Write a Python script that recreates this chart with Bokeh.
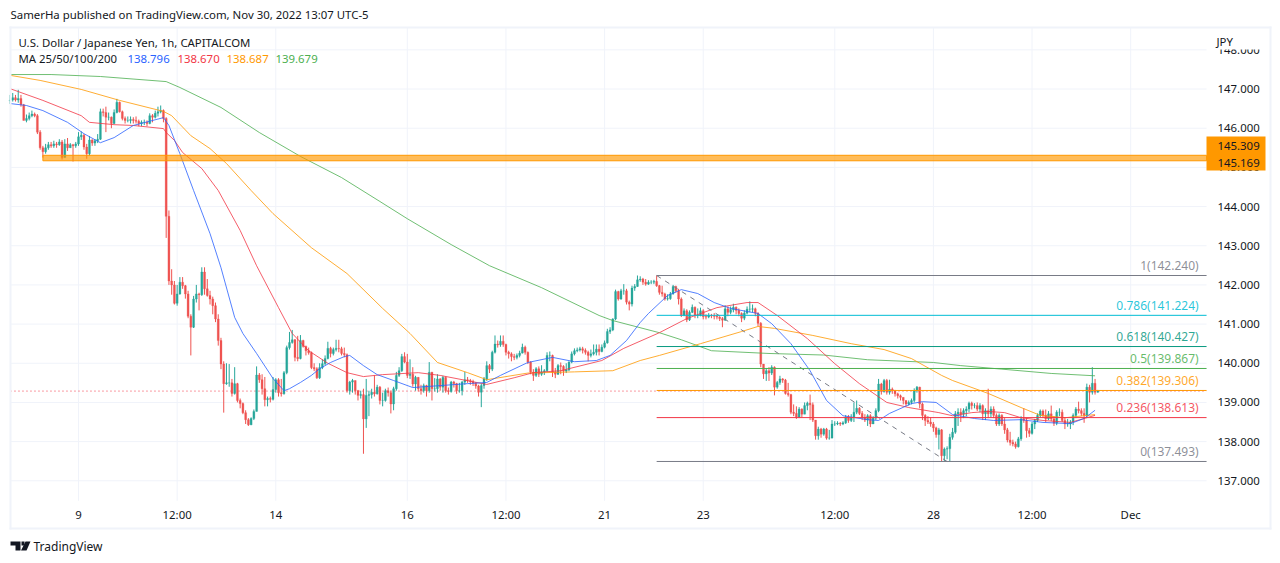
from bokeh.plotting import figure
from bokeh.embed import file_html
from bokeh.resources import INLINE
from bokeh.core.properties import value
from bokeh.models import (ColumnDataSource, Label, BoxAnnotation, PolyAnnotation, FixedTicker,
                          NumeralTickFormatter, LinearAxis)

closes = [146.72,146.78,146.72,146.76,146.6,146.2,146.25,146.32,146.36,146.32,
145.9,145.5,145.4,145.5,145.58,145.55,145.6,145.58,145.65,145.25,
145.6,145.5,145.58,145.55,145.6,145.78,145.82,145.52,145.35,145.7,
145.62,145.68,145.72,146.42,146.4,146.28,146.28,146.12,146.4,146.66,
146.42,146.25,146.2,146.2,146.22,146.2,146.18,146.12,146.15,146.15,
146.12,146.32,146.28,146.38,146.42,146.45,146.25,143.75,142.1,142.0,
141.53,141.77,142.07,141.98,141.77,141.2,140.92,141.64,141.77,141.75,
142.33,141.9,141.73,141.64,141.47,141.13,140.58,139.98,139.48,139.5,
139.5,139.23,139.48,139.05,138.97,138.74,138.56,138.43,138.59,138.77,
139.7,139.58,139.35,139.07,139.1,139.08,139.33,139.58,139.25,139.22,
139.76,140.4,140.53,140.6,140.15,140.12,140.58,140.43,140.32,140.27,
139.89,139.86,139.63,139.89,139.99,140.12,140.38,140.25,140.35,140.38,
140.37,140.25,140.22,139.3,139.52,139.56,139.3,139.18,139.2,138.58,
139.18,139.2,139.26,139.22,139.39,139.05,139.05,139.3,139.25,138.96,
139.35,139.69,139.81,140.17,140.03,139.69,139.72,139.47,139.64,139.35,
139.3,139.43,139.3,139.77,139.35,139.35,139.6,139.39,139.64,139.3,
139.28,139.52,139.48,139.3,139.3,139.52,139.58,139.56,139.53,139.49,
139.42,139.26,139.43,139.6,139.94,139.85,140.28,140.49,140.47,140.56,
140.48,140.28,140.24,140.17,140.15,140.2,140.26,140.41,140.28,140.03,
139.77,139.69,139.86,139.72,139.78,139.81,140.2,140.2,139.77,139.72,
139.94,139.92,139.8,139.83,140.03,140.24,140.32,140.34,140.37,140.33,
140.28,140.2,140.24,140.28,140.36,140.3,140.41,140.52,140.81,140.85,
141.13,141.83,141.64,141.85,141.85,141.56,141.51,141.92,141.96,142.13,
142.15,142.07,142.02,142.07,142.07,142.09,141.98,141.81,141.77,141.64,
141.65,141.77,141.96,141.85,141.64,141.22,141.34,141.11,141.3,141.43,
141.22,141.22,141.34,141.19,141.18,141.22,141.21,141.2,141.18,141.14,
141.1,141.39,141.3,141.37,141.43,141.35,141.27,141.15,141.28,141.38,
141.38,141.39,141.28,141.02,139.98,139.73,139.81,139.75,139.9,139.39,
139.51,139.6,139.57,139.23,139.2,138.75,138.72,138.62,138.83,138.7,
138.92,138.98,138.94,138.55,138.15,138.32,138.19,138.32,138.09,138.09,
138.45,138.45,138.47,138.45,138.48,138.62,138.54,138.62,138.75,138.85,
138.72,138.62,138.55,138.66,138.45,138.6,138.79,139.47,139.28,139.56,
139.26,139.34,139.3,139.22,139.17,139.13,139.05,138.96,139.0,139.05,
139.3,139.39,138.96,138.67,138.54,138.5,138.45,138.35,138.18,138.3,
137.64,137.81,137.82,138.11,138.24,138.71,138.75,138.7,138.79,138.83,
138.98,138.92,138.92,138.83,138.92,138.71,138.79,138.71,138.83,138.67,
138.45,138.67,138.45,138.3,138.04,137.98,137.94,137.87,138.07,138.58,
138.54,138.28,138.21,138.45,138.54,138.67,138.78,138.67,138.58,138.71,
138.58,138.47,138.75,138.75,138.54,138.45,138.45,138.5,138.67,138.83,
138.79,138.72,138.67,139.39,139.26,139.49,139.26,139.3]

highs = [146.85,146.9,146.85,146.98,146.85,146.62,146.35,146.4,146.45,146.4,
146.36,145.95,145.55,145.6,145.65,145.65,145.68,145.65,145.72,145.7,
145.72,145.75,145.62,145.6,145.65,145.9,145.92,145.85,145.6,145.8,
145.72,145.72,145.85,146.5,146.5,146.55,146.4,146.3,146.48,146.75,
146.68,146.45,146.3,146.3,146.3,146.28,146.3,146.22,146.2,146.22,
146.2,146.38,146.36,146.45,146.55,146.58,146.48,146.28,143.9,142.4,
142.1,142.0,142.2,142.2,142.0,141.85,141.25,141.72,142.0,141.8,
142.45,142.45,142.15,141.85,141.7,141.55,141.25,140.65,140.05,140.0,
139.98,139.6,139.9,139.5,139.1,139.0,138.8,138.6,138.62,138.82,
139.92,139.75,139.72,139.65,139.15,139.15,139.65,139.62,139.62,139.6,
139.8,140.45,140.8,140.85,140.62,140.7,140.72,140.6,140.45,140.4,
140.3,140.0,139.9,140.0,140.1,140.2,140.55,140.42,140.4,140.6,
140.6,140.42,140.4,140.25,139.55,139.6,139.4,139.32,139.3,139.35,
139.6,139.3,139.35,139.69,139.45,139.42,139.25,139.35,139.38,139.3,
139.4,139.78,139.9,140.24,140.28,140.24,140.1,139.9,139.68,139.65,
139.45,139.48,139.45,140.03,139.78,139.62,139.72,139.62,139.68,139.66,
139.38,139.55,139.55,139.5,139.5,139.55,139.78,139.65,139.6,139.58,
139.52,139.45,139.48,139.65,140.05,139.98,140.32,140.71,140.58,140.71,
140.71,140.5,140.32,140.28,140.24,140.25,140.32,140.5,140.45,140.3,
140.05,139.85,139.9,139.92,139.95,139.85,140.28,140.3,140.22,139.88,
139.98,140.02,139.95,140.0,140.05,140.3,140.38,140.4,140.42,140.42,
140.38,140.32,140.35,140.48,140.48,140.48,140.48,140.58,140.88,140.92,
141.15,141.88,141.85,141.9,142.02,141.9,141.6,141.98,142.02,142.24,
142.22,142.18,142.15,142.12,142.12,142.13,142.24,142.0,141.98,141.8,
141.76,141.82,142.0,141.98,141.9,141.68,141.4,141.38,141.35,141.5,
141.45,141.4,141.42,141.38,141.25,141.28,141.26,141.28,141.24,141.2,
141.18,141.48,141.45,141.45,141.52,141.45,141.4,141.3,141.35,141.45,
141.58,141.5,141.42,141.3,141.05,139.98,139.88,139.9,139.95,139.92,
139.55,139.68,139.62,139.6,139.5,139.22,138.95,138.9,138.88,138.85,
139.0,139.02,139.2,139.0,138.55,138.38,138.35,138.35,138.35,138.3,
138.55,138.52,138.52,138.5,138.52,138.68,138.68,138.7,139.0,139.05,
138.88,138.78,138.7,138.7,138.7,138.65,138.85,139.6,139.5,139.6,
139.6,139.58,139.38,139.32,139.25,139.2,139.12,139.05,139.05,139.1,
139.36,139.42,139.4,139.0,138.7,138.65,138.62,138.5,138.38,138.35,
138.32,137.85,137.88,138.2,138.35,138.78,138.85,138.85,138.85,138.9,
139.02,139.02,138.98,139.0,138.98,138.95,138.85,139.35,138.9,138.9,
138.72,138.72,138.7,138.6,138.35,138.25,138.05,138.0,138.12,138.65,
138.85,138.6,138.35,138.5,138.58,138.72,138.82,138.82,138.82,138.78,
138.92,138.65,138.8,138.85,138.82,138.62,138.58,138.55,138.72,138.88,
139.02,138.85,138.85,139.48,139.45,139.9,139.6,139.32]

lows = [146.62,146.68,146.68,146.65,146.55,146.2,146.15,146.2,146.28,146.28,
145.85,145.45,145.25,145.35,145.45,145.5,145.5,145.5,145.55,145.2,
145.25,145.42,145.5,145.15,145.5,145.55,145.7,145.45,145.22,145.3,
145.55,145.55,145.62,145.7,146.3,145.9,146.2,146.0,146.1,146.38,
146.4,146.2,146.12,146.15,146.12,146.12,146.12,146.05,146.05,146.08,
146.05,146.1,146.15,146.25,146.3,146.38,146.15,143.2,142.0,141.75,
141.5,141.47,141.75,141.9,141.65,141.15,140.2,140.9,141.55,141.35,
141.72,141.75,141.7,141.5,141.25,141.05,140.45,139.85,138.74,139.45,
139.4,139.15,139.2,139.0,138.85,138.7,138.45,138.4,138.42,138.55,
139.1,139.5,139.2,138.9,138.9,139.0,139.05,139.25,139.15,139.15,
139.2,139.72,140.35,140.5,140.05,140.05,140.1,140.4,140.2,140.22,
139.85,139.8,139.6,139.6,139.85,139.95,140.1,140.15,140.2,140.3,
140.28,140.2,140.15,139.25,139.2,139.25,139.2,139.05,139.1,137.69,
138.35,138.65,139.1,139.15,139.2,138.95,138.9,139.02,139.15,138.72,
138.8,139.3,139.65,139.78,140.0,139.62,139.6,139.4,139.3,139.28,
139.2,139.25,139.15,139.25,139.05,139.28,139.25,139.3,139.25,139.25,
139.2,139.25,139.38,139.22,139.25,139.18,139.45,139.5,139.45,139.42,
139.35,139.15,138.88,139.35,139.55,139.75,139.8,140.25,140.4,140.42,
140.42,140.2,140.12,140.05,140.08,140.1,140.15,140.25,140.22,139.98,
139.72,139.55,139.65,139.65,139.68,139.7,139.78,140.05,139.65,139.62,
139.7,139.72,139.68,139.75,139.8,140.0,140.2,140.28,140.3,140.25,
140.22,140.05,140.15,140.2,140.2,140.2,140.28,140.38,140.5,140.75,
140.82,141.1,141.6,141.62,141.75,141.5,141.35,141.45,141.85,141.95,
142.08,142.0,141.98,142.0,142.02,142.02,141.95,141.75,141.7,141.6,
141.6,141.62,141.75,141.8,141.5,141.18,141.2,141.05,141.08,141.28,
141.15,141.15,141.2,141.12,141.12,141.15,141.15,141.12,141.12,141.08,
140.92,141.08,141.2,141.25,141.3,141.25,141.2,141.05,141.1,141.25,
141.3,141.3,141.2,140.95,139.9,139.6,139.55,139.55,139.7,139.18,
139.35,139.45,139.5,139.2,139.15,138.7,138.65,138.58,138.6,138.62,
138.7,138.8,138.55,138.5,138.05,138.05,138.1,138.15,138.05,138.05,
138.08,138.4,138.42,138.4,138.42,138.45,138.48,138.5,138.5,138.7,
138.68,138.55,138.5,138.4,138.37,138.45,138.55,138.75,139.2,139.25,
139.2,139.2,139.22,139.15,139.1,139.05,138.95,138.9,138.92,138.95,
139.0,139.25,138.85,138.55,138.4,138.45,138.38,138.25,138.1,137.8,
137.49,137.5,137.55,137.5,138.05,138.2,138.4,138.5,138.6,138.65,
138.75,138.82,138.85,138.78,138.75,138.55,138.55,138.6,138.62,138.6,
138.4,138.4,138.4,138.2,137.98,137.9,137.88,137.82,137.85,138.02,
138.48,138.1,138.12,138.18,138.32,138.5,138.62,138.6,138.5,138.55,
138.52,138.4,138.42,138.65,138.5,138.32,138.38,138.32,138.42,138.6,
138.72,138.65,138.48,138.6,139.0,139.2,139.2,139.25]

first_open = 146.7

ma200_bars = [0,15,33,57,62,77,91,106,121,135,145,161,175,194,215,220,237,245,256,277,297,313,337,347,362,380,396]
ma200_vals = [147.37,147.37,147.32,147.19,147.04,146.53,145.89,145.28,144.74,144.13,143.69,143.03,142.49,141.93,141.22,141.09,140.78,140.6,140.32,140.25,140.21,140.09,140.02,139.94,139.85,139.74,139.68]

ma100_bars = [0,11,26,40,56,59,66,73,79,88,96,110,123,136,146,156,167,174,189,206,220,230,237,252,267,273,279,293,307,319,329,340,344,357,369,376,385,396]
ma100_vals = [147.35,147.22,146.99,146.71,146.43,146.32,145.81,145.48,145.1,144.41,143.82,142.95,142.29,141.4,140.76,140.02,139.76,139.58,139.75,139.78,139.81,140.07,140.2,140.5,140.81,140.94,140.89,140.71,140.5,140.35,140.12,139.69,139.56,139.23,138.87,138.67,138.61,138.69]

ma50_bars = [0,12,26,29,38,45,56,57,60,63,70,76,84,90,98,103,109,116,123,129,136,149,157,174,184,191,201,216,224,237,247,258,269,273,280,291,301,310,320,328,339,344,351,357,363,369,377,387,396]
ma50_vals = [147.01,146.71,146.32,146.15,146.09,146.07,145.99,145.89,145.69,145.38,144.97,144.41,143.39,142.49,141.42,140.76,140.32,140.0,139.76,139.66,139.71,139.76,139.69,139.46,139.63,139.76,139.81,140.07,140.38,140.78,141.14,141.42,141.55,141.55,141.22,140.63,139.99,139.48,139.0,138.87,138.74,138.66,138.74,138.77,138.74,138.61,138.54,138.49,138.67]

ma25_bars = [0,6,12,21,27,33,38,45,56,58,62,67,73,77,82,85,90,96,100,102,106,110,113,117,122,124,129,134,140,147,157,167,174,179,189,198,206,214,219,225,230,233,240,245,251,257,263,273,278,285,292,298,304,313,317,321,329,333,338,344,352,359,369,377,387,392,396]
ma25_vals = [146.63,146.58,146.45,146.15,145.86,145.63,145.76,146.07,146.27,146.07,145.35,144.41,143.31,142.44,141.17,140.76,140.25,139.61,139.3,139.35,139.51,139.69,139.86,140.02,140.17,140.2,139.94,139.71,139.56,139.38,139.43,139.48,139.51,139.69,140.02,140.15,140.04,140.07,140.2,140.58,141.04,141.27,141.73,141.88,141.78,141.55,141.4,141.27,141.01,140.5,139.81,139.05,138.66,138.56,138.54,138.72,138.97,139.02,139.0,138.69,138.59,138.54,138.56,138.49,138.46,138.59,138.8]

tick_bars = [25,61,97,145,181,217,253,301,337,373,409]
tick_labels = ["9","12:00","14","16","12:00","21","23","12:00","28","12:00","Dec"]
price_ticks = [137,138,139,140,141,142,143,144,145,146,147,148]

fib_levels = [1,0.786,0.618,0.5,0.382,0.236,0]
fib_prices = [142.240,141.224,140.427,139.867,139.306,138.613,137.493]
fib_colors = ["#787b86","#00bcd4","#089981","#4caf50","#ff9800","#f23645","#787b86"]
fib_start_bar = 236
trend_bars = [236,342]
trend_prices = [142.240,137.493]
zone_start_bar = 12
zone_prices = [145.169,145.309]
last_price = 139.29
ma_labels = ["138.796","138.670","138.687","139.679"]
ma_colors = ["#2962ff","#f23645","#ff9800","#4caf50"]

FONT = "Noto Sans"
TXT = "#131722"
GRID = "#f0f3fa"
UP = "#26a69a"
DOWN = "#ef5350"
SMALL = "11.4px"
# pane edges, in data units of the two scales
PANE_L, PANE_R = 0.18, 436.7
PANE_B, PANE_T = 136.49, 148.56
FIB_LABEL_BAR = 433.8

opens = [first_open] + closes[:-1]
bars = list(range(len(closes)))
up = [c >= o for o, c in zip(opens, closes)]
src = ColumnDataSource(dict(
    x=bars, o=opens, c=closes,
    h=[max(a, o, c) for a, o, c in zip(highs, opens, closes)],
    l=[min(a, o, c) for a, o, c in zip(lows, opens, closes)],
    col=[UP if u else DOWN for u in up]))

W, H = 1272, 555
p = figure(width=W, height=H, x_range=(-3.467, 460.76), y_range=(135.093, 149.26),
           x_axis_location=None, y_axis_location=None, output_backend="svg", toolbar_location=None,
           min_border=0, outline_line_color=None, background_fill_color="white",
           border_fill_color="white")
p.xgrid.visible = False
p.ygrid.visible = False

# grid lines stop at the price pane's edges
p.segment(tick_bars, [PANE_B] * len(tick_bars), tick_bars, [PANE_T] * len(tick_bars),
          line_color=GRID, line_width=1)
p.segment([PANE_L] * len(price_ticks), price_ticks, [PANE_R] * len(price_ticks), price_ticks,
          line_color=GRID, line_width=1)

xa = LinearAxis(fixed_location=PANE_B, ticker=FixedTicker(ticks=tick_bars),
                major_label_overrides={b: t for b, t in zip(tick_bars, tick_labels)})
ya = LinearAxis(fixed_location=PANE_R, ticker=FixedTicker(ticks=price_ticks),
                formatter=NumeralTickFormatter(format="0.000"))
for ax, side in ((xa, "below"), (ya, "right")):
    ax.axis_line_color = None
    ax.major_tick_line_color = None
    ax.minor_tick_line_color = None
    ax.major_label_text_font = FONT
    ax.major_label_text_font_size = SMALL
    ax.major_label_text_color = TXT
    p.add_layout(ax, side)
xa.major_label_standoff = 0
ya.major_label_standoff = 5

p.line([PANE_L, PANE_R], [last_price, last_price], line_color="#f23645",
       line_dash=[1, 3], line_width=1)
p.segment("x", "l", "x", "h", color="col", line_width=1, source=src)
p.vbar("x", 0.72, "o", "c", fill_color="col", line_color="col", line_width=0.3, source=src)

for xs, ys, col in [(ma200_bars, ma200_vals, ma_colors[3]), (ma100_bars, ma100_vals, ma_colors[2]),
                    (ma50_bars, ma50_vals, ma_colors[1]), (ma25_bars, ma25_vals, ma_colors[0])]:
    p.line(xs, ys, line_color=col, line_width=1, line_alpha=0.8)

p.line(trend_bars, trend_prices, line_color="#787b86", line_dash=[5, 5], line_width=1)
for lv, pr, col in zip(fib_levels, fib_prices, fib_colors):
    p.line([fib_start_bar, PANE_R], [pr, pr], line_color=col, line_width=1)
    p.text([FIB_LABEL_BAR], [pr], text=[f"{lv}({pr:.3f})"], text_color=col, text_alpha=0.85,
           text_font=value(FONT), text_font_size="12px", text_align="right",
           text_baseline="middle", y_offset=-10)

p.quad(left=[zone_start_bar], right=[PANE_R], bottom=[zone_prices[0]], top=[zone_prices[1]],
       fill_color="#ff9800", fill_alpha=0.65, line_color="#ff9800", line_width=1)


def box(l, r, t, b, fill):
    p.add_layout(BoxAnnotation(left=l, right=r, top=t, bottom=b,
                               left_units="canvas", right_units="canvas",
                               top_units="canvas", bottom_units="canvas",
                               fill_color=fill, fill_alpha=1, line_alpha=0,
                               level="overlay", editable=False))


def label(text, x, y, color=TXT, size=SMALL, align="left"):
    p.add_layout(Label(x=x, y=y, x_units="canvas", y_units="canvas", text=text,
                       text_color=color, text_font=FONT, text_font_size=size,
                       text_align=align, text_baseline="middle", level="overlay"))


box(1207, 1268, 29, 49, "white")
box(1206, 1265, 136, 170, "#ff9800")
# pale frame round the chart
box(9, 1271, 26, 28, GRID)
box(9, 1271, 527, 529, GRID)
box(9, 11, 26, 529, GRID)
box(1269, 1271, 26, 529, GRID)
label("SamerHa published on TradingView.com, Nov 30, 2022 13:07 UTC-5", 10, 14)
label("U.S. Dollar / Japanese Yen, 1h, CAPITALCOM", 18, 42)
label("MA 25/50/100/200", 18, 58)
for t, c, x in zip(ma_labels, ma_colors, [127, 177, 226, 275]):
    label(t, x, 58, color=c)
label("JPY", 1216, 41)
label("145.309", 1217, 145)
label("145.169", 1217, 162)
label("TradingView", 33, 546, size="12px")

for xs, ys in [([10, 20, 20, 15, 15, 10], [541, 541, 550, 550, 545, 545]),
               ([21, 24, 24, 21], [541, 541, 545, 545]),
               ([25, 30, 26, 20.5], [541, 541, 550, 550])]:
    p.add_layout(PolyAnnotation(xs=xs, ys=ys, xs_units="canvas", ys_units="canvas",
                                fill_color=TXT, fill_alpha=1, line_color=TXT, line_alpha=0,
                                level="overlay", editable=False))

open("out.html", "w").write(file_html(p, INLINE))
